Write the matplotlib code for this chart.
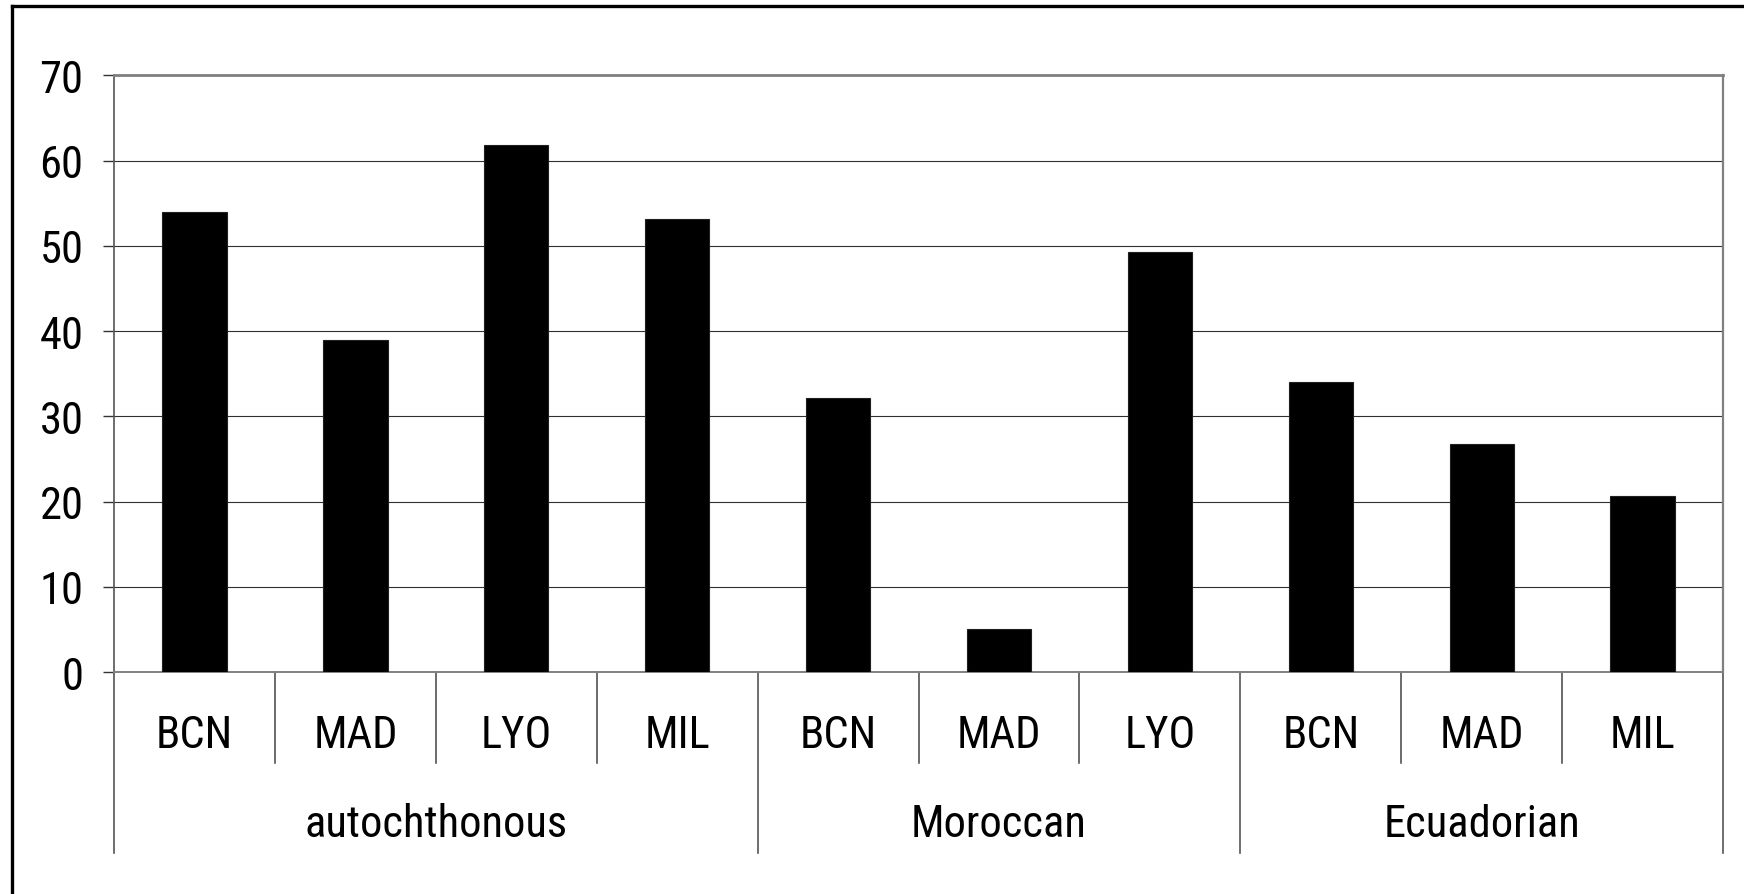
import matplotlib.pyplot as plt
from matplotlib.lines import Line2D

plt.rcParams['font.family'] = ['Roboto Condensed', 'Liberation Sans', 'DejaVu Sans']

# data
groups = ['autochthonous', 'Moroccan', 'Ecuadorian']
cities = [['BCN', 'MAD', 'LYO', 'MIL'],
          ['BCN', 'MAD', 'LYO'],
          ['BCN', 'MAD', 'MIL']]
values = [[54.0, 38.9, 61.8, 53.2],
          [32.2, 5.1, 49.3],
          [34.0, 26.7, 20.6]]
y_ticks = [0, 10, 20, 30, 40, 50, 60, 70]

labels = [c for g in cities for c in g]
vals = [v for g in values for v in g]
xs = list(range(len(vals)))

FS = 32

fig = plt.figure(figsize=(17.44, 8.95), dpi=100)
ax = fig.add_axes([0.0654, 0.2480, 0.9226, 0.6667])

ax.bar(xs, vals, width=0.40, color='black', edgecolor='#202020', linewidth=0.8, zorder=3)

ax.set_xlim(-0.5, len(vals) - 0.5)
ax.set_ylim(0, 70)
ax.set_yticks(y_ticks)
ax.set_yticklabels([str(t) for t in y_ticks], fontsize=FS)
ax.tick_params(axis='y', length=8, width=1, color='#333333', pad=14)
ax.set_xticks([])
ax.set_axisbelow(True)
ax.yaxis.grid(True, color='#303030', linewidth=0.8)

ax.spines['top'].set_color('#808080')
ax.spines['top'].set_linewidth(2.0)
ax.spines['right'].set_color('#808080')
ax.spines['right'].set_linewidth(1.6)
ax.spines['left'].set_color('#555555')
ax.spines['left'].set_linewidth(1.2)
ax.spines['bottom'].set_color('#808080')
ax.spines['bottom'].set_linewidth(1.4)

# two-level category axis drawn below the plot area
tr = ax.get_xaxis_transform()
for x, lab in zip(xs, labels):
    ax.text(x, -0.106, lab, transform=tr, ha='center', va='center', fontsize=FS, clip_on=False)

start = 0
bounds = [-0.5]
for g, cs in zip(groups, cities):
    n = len(cs)
    ax.text(start + (n - 1) / 2, -0.255, g, transform=tr, ha='center', va='center',
            fontsize=FS, clip_on=False)
    for k in range(1, n):
        xb = start + k - 0.5
        ax.plot([xb, xb], [0, -0.1525], transform=tr, color='#444444', lw=1.1, clip_on=False)
    start += n
    bounds.append(start - 0.5)
for xb in bounds:
    ax.plot([xb, xb], [0, -0.3025], transform=tr, color='#555555', lw=1.2, clip_on=False)

# outer chart frame (left and top edges are visible)
fig.add_artist(Line2D([11.5 / 1744, 11.5 / 1744], [0, 1 - 6.5 / 895], color='black', lw=2.4,
                      transform=fig.transFigure))
fig.add_artist(Line2D([11.5 / 1744, 1], [1 - 6.5 / 895, 1 - 6.5 / 895], color='black', lw=2.4,
                      transform=fig.transFigure))

fig.savefig('out.png', dpi=100, facecolor='white')
